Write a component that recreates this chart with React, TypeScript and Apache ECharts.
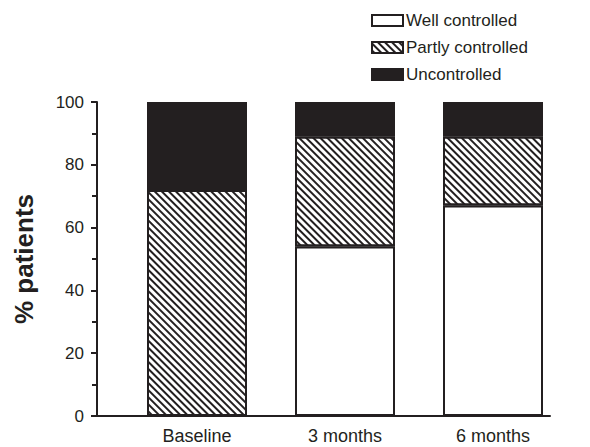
import React, { useEffect, useRef } from "react";
import * as echarts from "echarts";

const categories = ["Baseline", "3 months", "6 months"];
const wellControlled = [0, 54, 67];
const partlyControlled = [72, 35, 22];
const uncontrolled = [28, 11, 11];

const INK = "#231f20";
const FONT = "Arial, 'Liberation Sans', sans-serif";

export default function App() {
  const ref = useRef<HTMLDivElement>(null);
  useEffect(() => {
    if (!ref.current) return;
    const chart = echarts.init(ref.current, undefined, { renderer: "svg" });
    const common = {
      type: "bar",
      stack: "total",
      barWidth: 100,
      xAxisIndex: 0,
      yAxisIndex: 0,
    };
    chart.setOption({
      animation: false,
      backgroundColor: "#fff",
      textStyle: { fontFamily: FONT },
      legend: {
        orient: "vertical",
        left: 366,
        top: 7,
        itemWidth: 31,
        itemHeight: 11,
        itemGap: 10,
        icon: "rect",
        selectedMode: false,
        textStyle: { fontSize: 17, color: INK, fontFamily: FONT, padding: [0, 0, 0, -2] },
        data: ["Well controlled", "Partly controlled", "Uncontrolled"],
      },
      grid: [
        { left: 123, right: 23, top: 102, bottom: 31, containLabel: false },
        { left: 97, right: 40, top: 102, bottom: 31, containLabel: false },
      ],
      xAxis: [
        {
          type: "category",
          gridIndex: 0,
          data: categories,
          axisLine: { show: false },
          axisTick: { show: false },
          axisLabel: { fontSize: 18, color: INK, margin: 11, fontFamily: FONT },
        },
        {
          type: "value",
          gridIndex: 1,
          min: 0,
          max: 1,
          splitLine: { show: false },
          axisLine: { show: true, onZero: false, lineStyle: { color: INK, width: 2 } },
          axisTick: { show: false },
          axisLabel: { show: false },
        },
      ],
      yAxis: [
        {
          type: "value",
          gridIndex: 0,
          min: 0,
          max: 100,
          show: false,
        },
        {
          type: "value",
          gridIndex: 1,
          min: 0,
          max: 100,
          interval: 20,
          name: "% patients",
          nameLocation: "middle",
          nameGap: 60,
          nameTextStyle: { fontSize: 26, fontWeight: "bold", color: INK, fontFamily: FONT },
          splitLine: { show: false },
          axisLine: { show: true, onZero: false, lineStyle: { color: INK, width: 2 } },
          axisTick: { show: true, length: 6, lineStyle: { color: INK, width: 2 } },
          minorTick: { show: true, splitNumber: 2, length: 5, lineStyle: { color: INK, width: 2 } },
          axisLabel: { fontSize: 17, color: INK, margin: 13, fontFamily: FONT },
        },
      ],
      series: [
        {
          ...common,
          name: "Well controlled",
          data: wellControlled,
          itemStyle: { color: "#fff", borderColor: INK, borderWidth: 2 },
        },
        {
          ...common,
          name: "Partly controlled",
          data: partlyControlled,
          itemStyle: {
            color: "#fff",
            borderColor: INK,
            borderWidth: 2,
            decal: {
              symbol: "rect",
              symbolSize: 1,
              color: INK,
              backgroundColor: "#fff",
              dashArrayX: [1, 0],
              dashArrayY: [2, 3],
              rotation: Math.PI / 4,
            },
          },
        },
        {
          ...common,
          name: "Uncontrolled",
          data: uncontrolled,
          itemStyle: { color: INK, borderColor: INK, borderWidth: 2 },
        },
      ],
    });
    return () => chart.dispose();
  }, []);
  return (
    <div
      ref={ref}
      style={{ position: "fixed", left: 0, top: 0, width: 590, height: 447 }}
    />
  );
}
